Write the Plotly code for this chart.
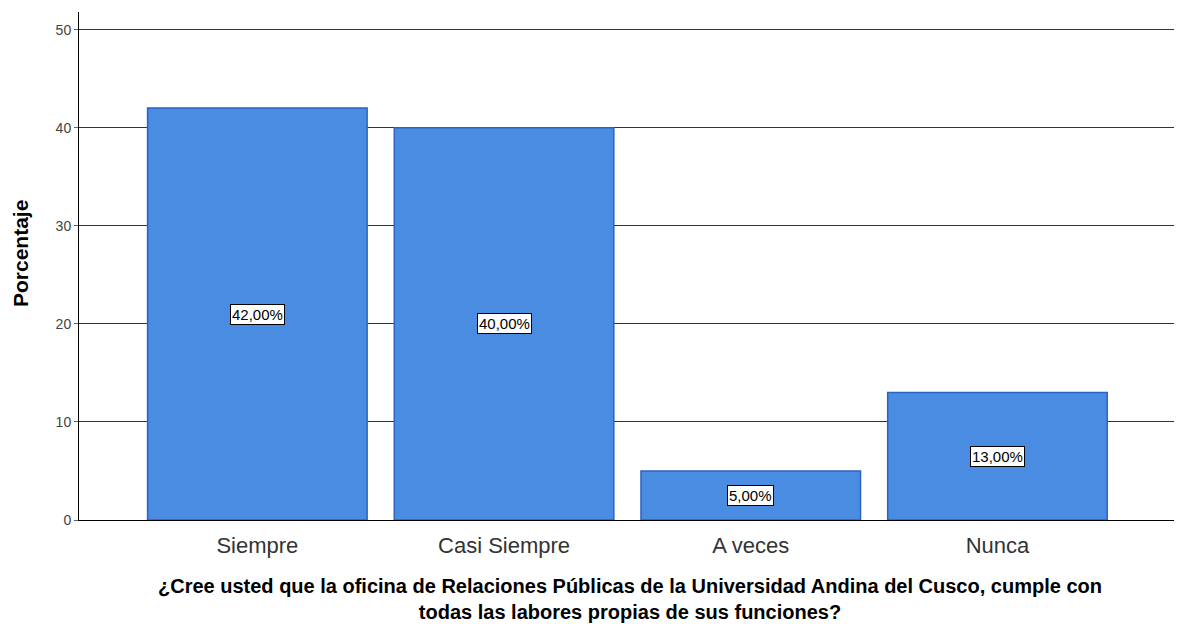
import plotly.graph_objects as go

categorias = ['Siempre', 'Casi Siempre', 'A veces', 'Nunca']
porcentajes = [42, 40, 5, 13]
etiquetas = ['42,00%', '40,00%', '5,00%', '13,00%']
ticks_y = [0, 10, 20, 30, 40, 50]
titulo_x = ['¿Cree usted que la oficina de Relaciones Públicas de la Universidad Andina del Cusco, cumple con',
            'todas las labores propias de sus funciones?']

fig = go.Figure()
fig.add_trace(go.Bar(
    x=list(range(len(categorias))),
    y=porcentajes,
    width=0.89,
    marker=dict(color='#4a8ce2', line=dict(color='#2c63c2', width=1.5)),
    hoverinfo='skip',
))

# value labels in the middle of each bar, boxed like SPSS
for i, (v, t) in enumerate(zip(porcentajes, etiquetas)):
    fig.add_annotation(
        x=i, y=v / 2, text=t, showarrow=False,
        font=dict(family='Arial, Liberation Sans', size=15, color='black'),
        bgcolor='white', bordercolor='black', borderwidth=1, borderpad=1,
    )

# axis titles as annotations so they sit where the original has them
fig.add_annotation(
    xref='paper', yref='paper', x=0, y=0.5, xanchor='center', yanchor='middle',
    xshift=-59, yshift=12,
    text='<b>Porcentaje</b>', textangle=-90, showarrow=False,
    font=dict(family='Arial, Liberation Sans', size=21, color='black'),
)
fig.add_annotation(
    xref='paper', yref='paper', x=0.5, y=0, xanchor='center', yanchor='middle',
    yshift=-79, text='<b>' + '<br>'.join(titulo_x) + '</b>', showarrow=False,
    font=dict(family='Arial, Liberation Sans', size=20, color='black'),
)

fig.update_layout(
    width=1174, height=616,
    margin=dict(l=71, r=2, t=4, b=104),
    plot_bgcolor='white', paper_bgcolor='white',
    showlegend=False,
    font=dict(family='Arial, Liberation Sans'),
)
fig.update_xaxes(
    tickvals=list(range(len(categorias))), ticktext=categorias,
    range=[-0.723, 3.74],
    tickfont=dict(size=22, color='#333333'),
    ticklabelstandoff=6,
    showline=True, linecolor='black', linewidth=1,
    ticks='', showgrid=False, zeroline=False,
)
fig.update_yaxes(
    range=[0, 51.8], tickvals=ticks_y,
    tickfont=dict(size=14, color='#444444'),
    showline=True, linecolor='black', linewidth=1,
    ticks='outside', ticklen=4, tickcolor='#666666',
    showgrid=True, gridcolor='#333333', gridwidth=1, zeroline=False,
)

fig.write_html('out.html')
